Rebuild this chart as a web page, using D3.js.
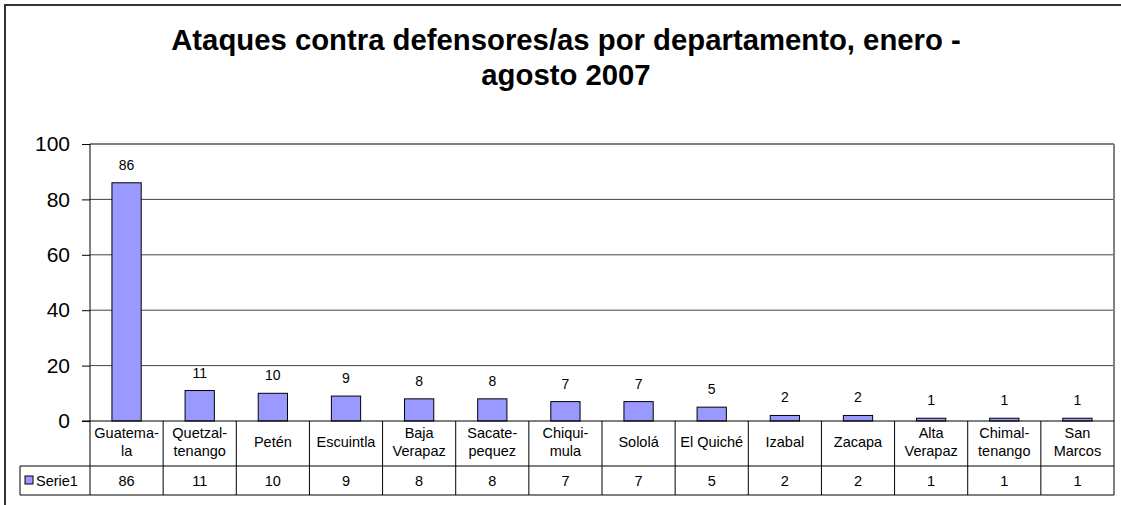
<!DOCTYPE html>
<html>
<head>
<meta charset="utf-8">
<script src="https://cdn.jsdelivr.net/npm/d3@7"></script>
<style>
  body { margin: 0; background: #fff; }
  text { font-family: Arial, "Liberation Sans", sans-serif; fill: #000; }
</style>
</head>
<body>
<div class="svg-container"></div>
<script>
// departamentos (labels split on '|' for the two-line table headers)
const departamentos = ['Guatema-|la', 'Quetzal-|tenango', 'Petén', 'Escuintla', 'Baja|Verapaz',
  'Sacate-|pequez', 'Chiqui-|mula', 'Sololá', 'El Quiché', 'Izabal', 'Zacapa',
  'Alta|Verapaz', 'Chimal-|tenango', 'San|Marcos'];
const serie1 = [86, 11, 10, 9, 8, 8, 7, 7, 5, 2, 2, 1, 1, 1];
const yTicks = [0, 20, 40, 60, 80, 100];
const seriesName = 'Serie1';
const titleLines = ['Ataques contra defensores/as por departamento, enero -', 'agosto 2007'];

const width = 1121;
const height = 505;
const margin = { top: 144, right: 7, bottom: 84, left: 90 };
const plotBottom = height - margin.bottom; // 421
const rowSplit = 466;
const tableBottom = 495;

const svg = d3.select('.svg-container')
  .append('svg')
  .attr('width', width)
  .attr('height', height);

// outer chart border
svg.append('rect')
  .attr('x', 5).attr('y', 5)
  .attr('width', width + 10).attr('height', height + 10)
  .attr('fill', 'none')
  .attr('stroke', '#333')
  .attr('stroke-width', 2);

// title
svg.append('g')
  .selectAll('text')
  .data(titleLines)
  .join('text')
  .attr('x', 566)
  .attr('y', (d, i) => 50 + i * 35)
  .attr('text-anchor', 'middle')
  .attr('font-size', '29.3px')
  .attr('font-weight', 'bold')
  .text(d => d);

// scales
const xScale = d3.scaleBand()
  .domain(d3.range(departamentos.length))
  .range([margin.left, width - margin.right]);

const barScale = d3.scaleBand()
  .domain(d3.range(departamentos.length))
  .range([margin.left, width - margin.right])
  .paddingInner(0.6)
  .paddingOuter(0.3);

const yScale = d3.scaleLinear()
  .domain([0, 100])
  .range([plotBottom, margin.top]);

// gridlines
svg.append('g')
  .selectAll('line')
  .data(yTicks.filter(d => d > 0))
  .join('line')
  .attr('x1', margin.left)
  .attr('x2', width - margin.right)
  .attr('y1', d => yScale(d))
  .attr('y2', d => yScale(d))
  .attr('stroke', d => d === 100 ? '#808080' : '#444')
  .attr('stroke-width', d => d === 100 ? 2 : 1);

// right border of plot
svg.append('line')
  .attr('x1', width - margin.right).attr('x2', width - margin.right)
  .attr('y1', margin.top).attr('y2', tableBottom)
  .attr('stroke', '#808080')
  .attr('stroke-width', 2);

// y axis
const yAxis = d3.axisLeft(yScale)
  .tickValues(yTicks)
  .tickSize(8)
  .tickPadding(12);

const yAxisG = svg.append('g')
  .attr('transform', `translate(${margin.left}, 0)`)
  .call(yAxis);
yAxisG.select('.domain').remove();
yAxisG.selectAll('text').attr('font-size', '21px').attr('font-family', 'Arial, "Liberation Sans", sans-serif');

// bars
svg.append('g')
  .selectAll('rect')
  .data(serie1)
  .join('rect')
  .attr('x', (d, i) => barScale(i))
  .attr('width', barScale.bandwidth())
  .attr('y', d => yScale(d))
  .attr('height', d => yScale(0) - yScale(d))
  .attr('fill', '#9999ff')
  .attr('stroke', '#000')
  .attr('stroke-width', 1);

// data labels
svg.append('g')
  .selectAll('text')
  .data(serie1)
  .join('text')
  .attr('x', (d, i) => xScale(i) + xScale.bandwidth() / 2)
  .attr('y', d => yScale(d) - 13)
  .attr('text-anchor', 'middle')
  .attr('font-size', '14px')
  .text(d => d);

// axis line and category table
svg.append('line')
  .attr('x1', margin.left).attr('x2', margin.left)
  .attr('y1', margin.top).attr('y2', tableBottom)
  .attr('stroke', '#000');

svg.append('line')
  .attr('x1', margin.left - 8).attr('x2', width - margin.right)
  .attr('y1', plotBottom).attr('y2', plotBottom)
  .attr('stroke', '#000');

svg.append('line')
  .attr('x1', 20).attr('x2', width - margin.right)
  .attr('y1', rowSplit).attr('y2', rowSplit)
  .attr('stroke', '#000');

svg.append('line')
  .attr('x1', 20).attr('x2', width - margin.right)
  .attr('y1', tableBottom).attr('y2', tableBottom)
  .attr('stroke', '#000');

svg.append('line')
  .attr('x1', 20).attr('x2', 20)
  .attr('y1', rowSplit).attr('y2', tableBottom)
  .attr('stroke', '#000');

svg.append('g')
  .selectAll('line')
  .data(d3.range(1, departamentos.length))
  .join('line')
  .attr('x1', i => xScale(i)).attr('x2', i => xScale(i))
  .attr('y1', plotBottom).attr('y2', tableBottom)
  .attr('stroke', '#000');

// category names
const catText = svg.append('g')
  .selectAll('text')
  .data(departamentos)
  .join('text')
  .attr('text-anchor', 'middle')
  .attr('font-size', '14.5px');

catText.each(function (d, i) {
  const lines = d.split('|');
  const cx = xScale(i) + xScale.bandwidth() / 2;
  const y0 = lines.length === 1 ? 447 : 438;
  d3.select(this).selectAll('tspan')
    .data(lines)
    .join('tspan')
    .attr('x', cx)
    .attr('y', (l, j) => y0 + j * 18)
    .text(l => l);
});

// values row
svg.append('g')
  .selectAll('text')
  .data(serie1)
  .join('text')
  .attr('x', (d, i) => xScale(i) + xScale.bandwidth() / 2)
  .attr('y', 486)
  .attr('text-anchor', 'middle')
  .attr('font-size', '14.5px')
  .text(d => d);

// legend key
svg.append('rect')
  .attr('x', 25).attr('y', 476)
  .attr('width', 8).attr('height', 8)
  .attr('fill', '#9999ff')
  .attr('stroke', '#000');

svg.append('text')
  .attr('x', 36).attr('y', 486)
  .attr('font-size', '14.5px')
  .text(seriesName);
</script>
</body>
</html>
